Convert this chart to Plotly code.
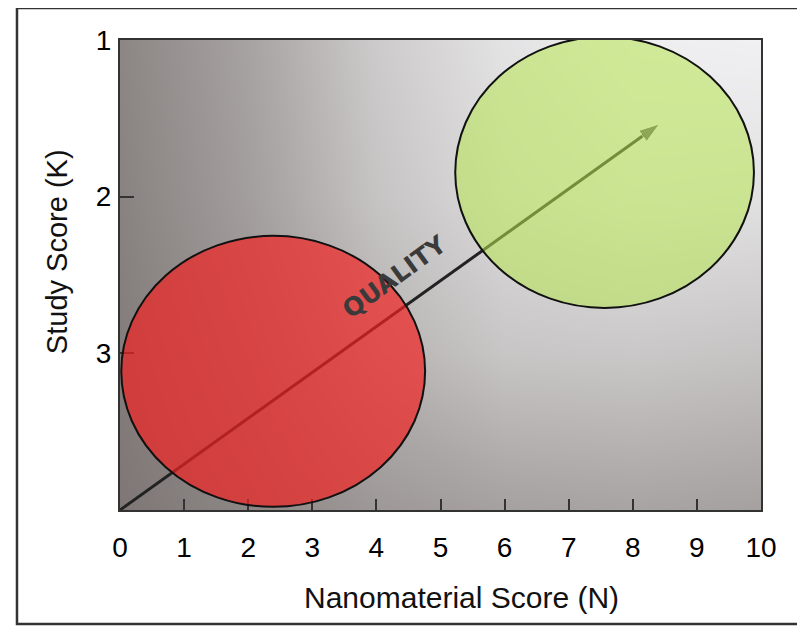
import plotly.graph_objects as go

# ---- data ----
x_tick_vals = list(range(0, 11))
y_tick_vals = [1, 2, 3]
x_title = "Nanomaterial Score (N)"
y_title = "Study Score (K)"

# background shading (grey level) sampled over the plot area
bg_x = [0, 2, 4, 6, 8, 10]
bg_y = [1, 2, 3, 4]
bg_z = [
    [136, 167, 205, 228, 238, 240],
    [132, 162, 198, 220, 228, 226],
    [126, 150, 182, 200, 202, 198],
    [120, 136, 156, 165, 168, 165],
]

# quality arrow (N, K)
arrow_x = [0, 8.42]
arrow_y = [4, 1.535]

# circles: extents in (N, K)
circle_x0 = [0.02, 5.23]
circle_x1 = [4.76, 9.89]
circle_y0 = [2.25, 0.98]
circle_y1 = [3.98, 2.71]
circle_fill = ["rgba(241,34,34,0.7)", "rgba(183,230,80,0.55)"]

quality_label = "QUALITY"
quality_pos = (4.29, 2.51)

# ---- figure ----
fig = go.Figure()

fig.add_trace(go.Heatmap(
    x=bg_x, y=bg_y, z=bg_z, zsmooth="best", zmin=100, zmax=245,
    colorscale=[[0, "rgb(108,100,98)"], [0.5, "rgb(172,168,167)"], [1, "rgb(245,245,247)"]],
    showscale=False, hoverinfo="skip",
))

fig.add_trace(go.Scatter(
    x=arrow_x, y=arrow_y, mode="lines+markers",
    line=dict(color="#222222", width=3),
    marker=dict(symbol="arrow", size=[0, 22], angleref="previous", color="#222222"),
    hoverinfo="skip", showlegend=False,
))

for x0, x1, y0, y1, fc in zip(circle_x0, circle_x1, circle_y0, circle_y1, circle_fill):
    fig.add_shape(type="circle", xref="x", yref="y", x0=x0, x1=x1, y0=y0, y1=y1,
                  fillcolor=fc, line=dict(color="#111111", width=2), layer="above")

# outer frame of the figure
fig.add_shape(type="rect", xref="paper", yref="paper",
              x0=-0.1607, x1=1.0608, y0=-0.2426, y1=1.068,
              line=dict(color="#333333", width=2.5), fillcolor="rgba(0,0,0,0)", layer="above")

fig.add_annotation(x=quality_pos[0], y=quality_pos[1], xref="x", yref="y",
                   text=quality_label, showarrow=False, textangle=-36,
                   font=dict(family="DejaVu Sans", size=25, color="#3a3a3a", weight="bold"))

fig.add_annotation(x=0.532, y=-0.187, xref="paper", yref="paper", text=x_title,
                   showarrow=False, xanchor="center", yanchor="middle",
                   font=dict(family="Liberation Sans", size=30, color="#111111"))
fig.add_annotation(x=-0.098, y=0.549, xref="paper", yref="paper", text=y_title,
                   showarrow=False, textangle=-90, xanchor="center", yanchor="middle",
                   font=dict(family="Liberation Sans", size=29, color="#111111"))

axis_common = dict(
    showgrid=False, zeroline=False, showline=True, linecolor="#333333", linewidth=2,
    mirror=True, ticks="inside", tickwidth=2, tickcolor="#333333",
    tickfont=dict(family="Liberation Sans", size=28, color="#000000"),
)
fig.update_xaxes(range=[0, 10], tickvals=x_tick_vals, ticklen=11, ticklabelstandoff=11, **axis_common)
fig.update_yaxes(range=[4, 1], tickvals=y_tick_vals, ticklen=14, ticklabelstandoff=1, **axis_common)

fig.update_layout(
    width=797, height=621,
    margin=dict(l=112, r=44, t=32, b=119),
    paper_bgcolor="white", plot_bgcolor="white",
    showlegend=False,
)

fig.write_html("out.html")
